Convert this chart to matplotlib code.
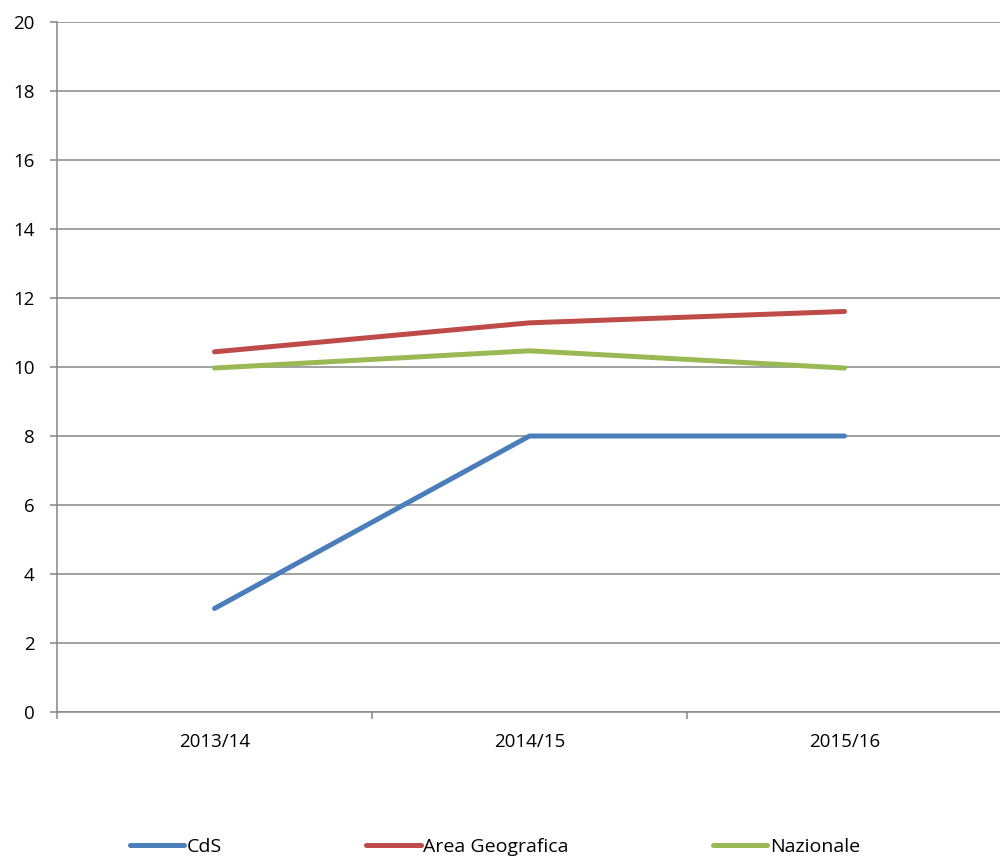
import matplotlib
matplotlib.use("Agg")
import matplotlib.pyplot as plt
from matplotlib.ticker import FixedLocator, NullFormatter, FixedFormatter

categories = ["2013/14", "2014/15", "2015/16"]
cds = [3, 8, 8]
area_geografica = [10.44, 11.28, 11.61]
nazionale = [9.97, 10.47, 9.97]
series_names = ["CdS", "Area Geografica", "Nazionale"]
colors = ["#4A7EBB", "#BE4B48", "#98B954"]
yticks = list(range(0, 21, 2))

plt.rcParams['font.family'] = ['Open Sans', 'DejaVu Sans']

fig = plt.figure(figsize=(10, 8.59), dpi=100)
W, H = 1000, 859
left, right, top, bottom = 57, 1002, 22, 712
ax = fig.add_axes([left / W, 1 - bottom / H, (right - left) / W, (bottom - top) / H])

x = list(range(len(categories)))
handles = []
for vals, name, c in zip([cds, area_geografica, nazionale], series_names, colors):
    h, = ax.plot(x, vals, color=c, lw=3.6, solid_capstyle='round', label=name, zorder=3)
    handles.append(h)

ax.set_xlim(-0.5, len(categories) - 0.5)
ax.set_ylim(0, 20)
ax.set_yticks(yticks)
ax.yaxis.grid(True, color="#868686", lw=1.1)
ax.set_axisbelow(True)

ax.xaxis.set_major_locator(FixedLocator([i - 0.5 for i in range(len(categories) + 1)]))
ax.xaxis.set_major_formatter(NullFormatter())
ax.xaxis.set_minor_locator(FixedLocator(x))
ax.xaxis.set_minor_formatter(FixedFormatter(categories))
ax.tick_params(axis='x', which='major', length=5, width=1.1, color="#868686", direction='out')
ax.tick_params(axis='x', which='minor', length=0, pad=15, labelsize=13.5)
ax.tick_params(axis='y', length=5, width=1.1, color="#868686", direction='out', pad=11, labelsize=13.5)

for s in ['top', 'right']:
    ax.spines[s].set_visible(False)
for s in ['left', 'bottom']:
    ax.spines[s].set_color("#868686")
    ax.spines[s].set_linewidth(1.1)

fig.legend(handles=handles, loc='center', bbox_to_anchor=(0.495, 1 - 847 / H), ncol=3,
           frameon=False, fontsize=14, handlelength=2.8, handletextpad=0.15,
           columnspacing=7.4)

fig.savefig("out.png", dpi=100)
